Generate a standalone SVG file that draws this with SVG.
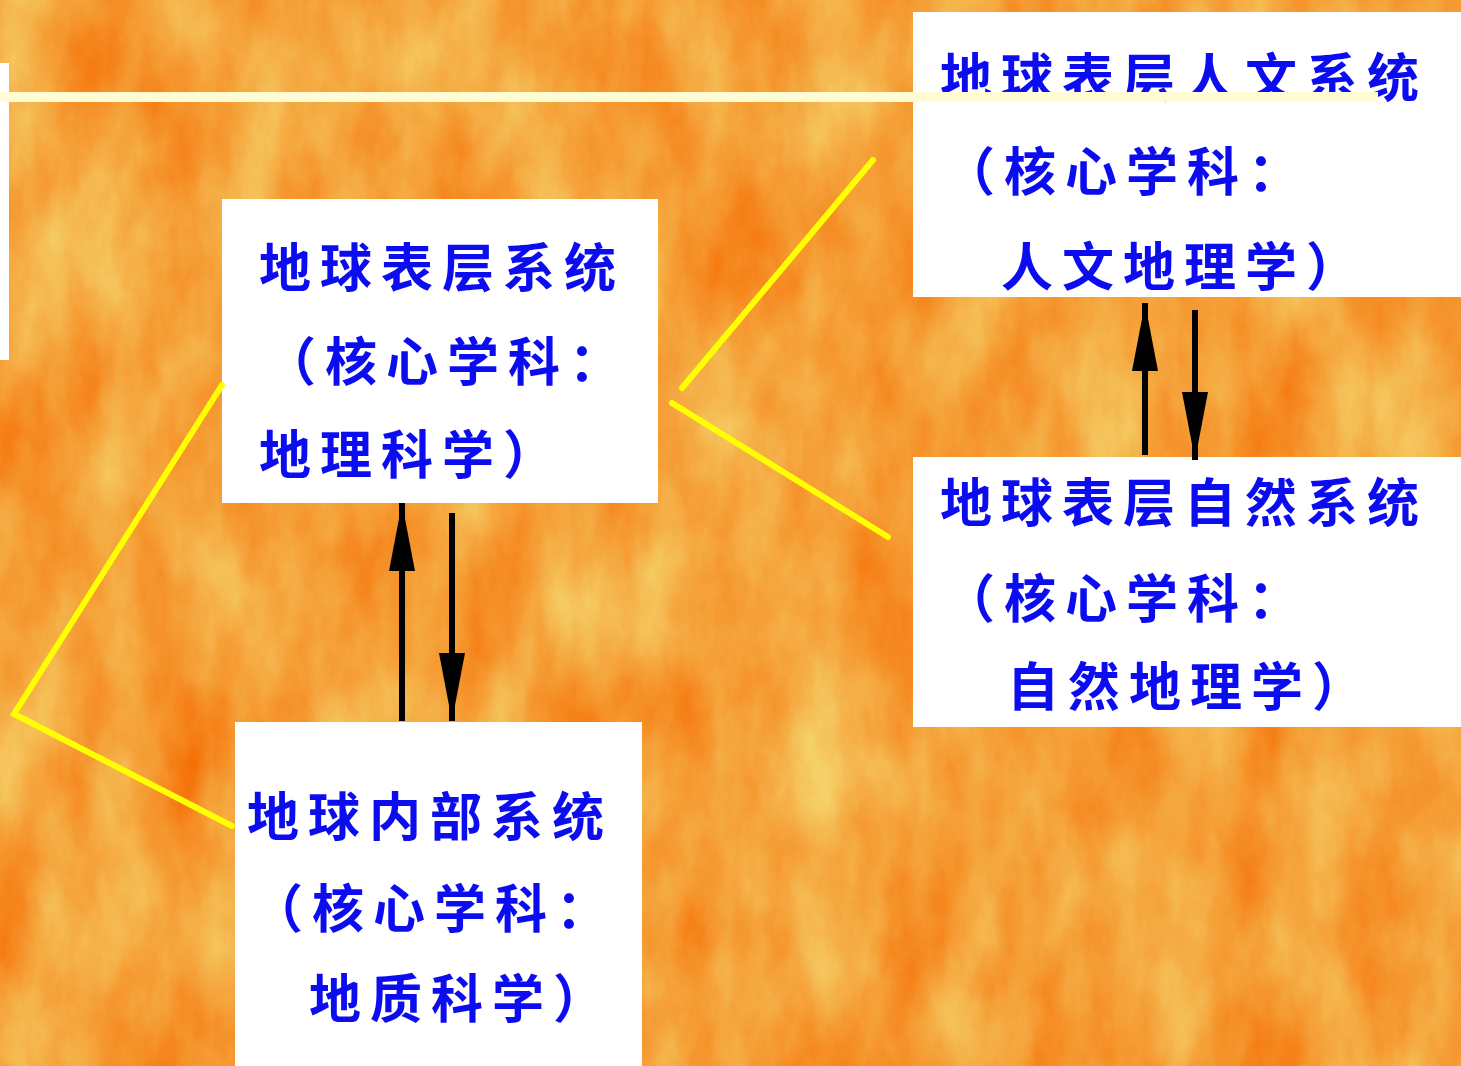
<svg xmlns="http://www.w3.org/2000/svg" width="1461" height="1066" viewBox="0 0 1461 1066">
  <defs>
    <filter id="tex" x="0" y="0" width="1461" height="1066" filterUnits="userSpaceOnUse" color-interpolation-filters="sRGB">
      <feTurbulence type="fractalNoise" baseFrequency="0.014 0.006" numOctaves="6" seed="11" result="n"/>
      <feColorMatrix in="n" type="matrix" values="0 0 0 0 0.96  0.45 0 0 0 0.41  0.45 0 0 0 0.0  0 0 0 0 1"/>
    </filter>
    <marker id="head" viewBox="0 0 68 26" refX="68" refY="13" markerWidth="68" markerHeight="26" markerUnits="userSpaceOnUse" orient="auto">
      <path d="M0,0 L68,13 L0,26 Z" fill="#000"/>
    </marker>
    <style>
      .box { fill: #ffffff; }
      .t { font-family: "Noto Sans CJK SC", "Noto Sans CJK TC", sans-serif; font-size: 52px; font-weight: 700; fill: #0c0cf0; letter-spacing: 9px; }
      .yl { stroke: #ffff00; stroke-width: 6; fill: none; stroke-linecap: round; stroke-linejoin: miter; }
      .ar { stroke: #000; stroke-width: 6; fill: none; marker-end: url(#head); }
    </style>
  </defs>

  <rect x="0" y="0" width="1461" height="1066" fill="#f29a30"/>
  <rect x="0" y="0" width="1461" height="1066" filter="url(#tex)"/>
  <rect x="0" y="63" width="9" height="297" fill="#ffffff"/>

  <g id="node-surface">
    <rect class="box" x="222" y="199" width="436" height="304"/>
    <text class="t" x="259" y="287">地球表层系统</text>
    <text class="t" x="264" y="381">（核心学科：</text>
    <text class="t" x="259" y="474">地理科学）</text>
  </g>

  <g id="node-human">
    <rect class="box" x="913" y="12" width="548" height="285"/>
    <text class="t" x="940" y="97">地球表层人文系统</text>
    <text class="t" x="943" y="191">（核心学科：</text>
    <text class="t" x="1001" y="286">人文地理学）</text>
  </g>

  <g id="node-natural">
    <rect class="box" x="913" y="457" width="548" height="270"/>
    <text class="t" x="940" y="522">地球表层自然系统</text>
    <text class="t" x="943" y="618">（核心学科：</text>
    <text class="t" x="1007" y="706">自然地理学）</text>
  </g>

  <g id="node-interior">
    <rect class="box" x="235" y="722" width="407" height="344"/>
    <text class="t" x="247" y="836">地球内部系统</text>
    <text class="t" x="251" y="928">（核心学科：</text>
    <text class="t" x="309" y="1018">地质科学）</text>
  </g>

  <g id="connectors">
    <polyline class="yl" points="222,385 14,714 232,826"/>
    <line class="yl" x1="873" y1="160" x2="682" y2="388"/>
    <line class="yl" x1="672" y1="403" x2="888" y2="537"/>
    <line class="ar" x1="402" y1="721" x2="402" y2="503"/>
    <line class="ar" x1="452" y1="513" x2="452" y2="721"/>
    <line class="ar" x1="1145" y1="455" x2="1145" y2="303"/>
    <line class="ar" x1="1195" y1="310" x2="1195" y2="460"/>
  </g>

  <rect x="0" y="92" width="1378" height="10" fill="#fffbd2"/>
</svg>
